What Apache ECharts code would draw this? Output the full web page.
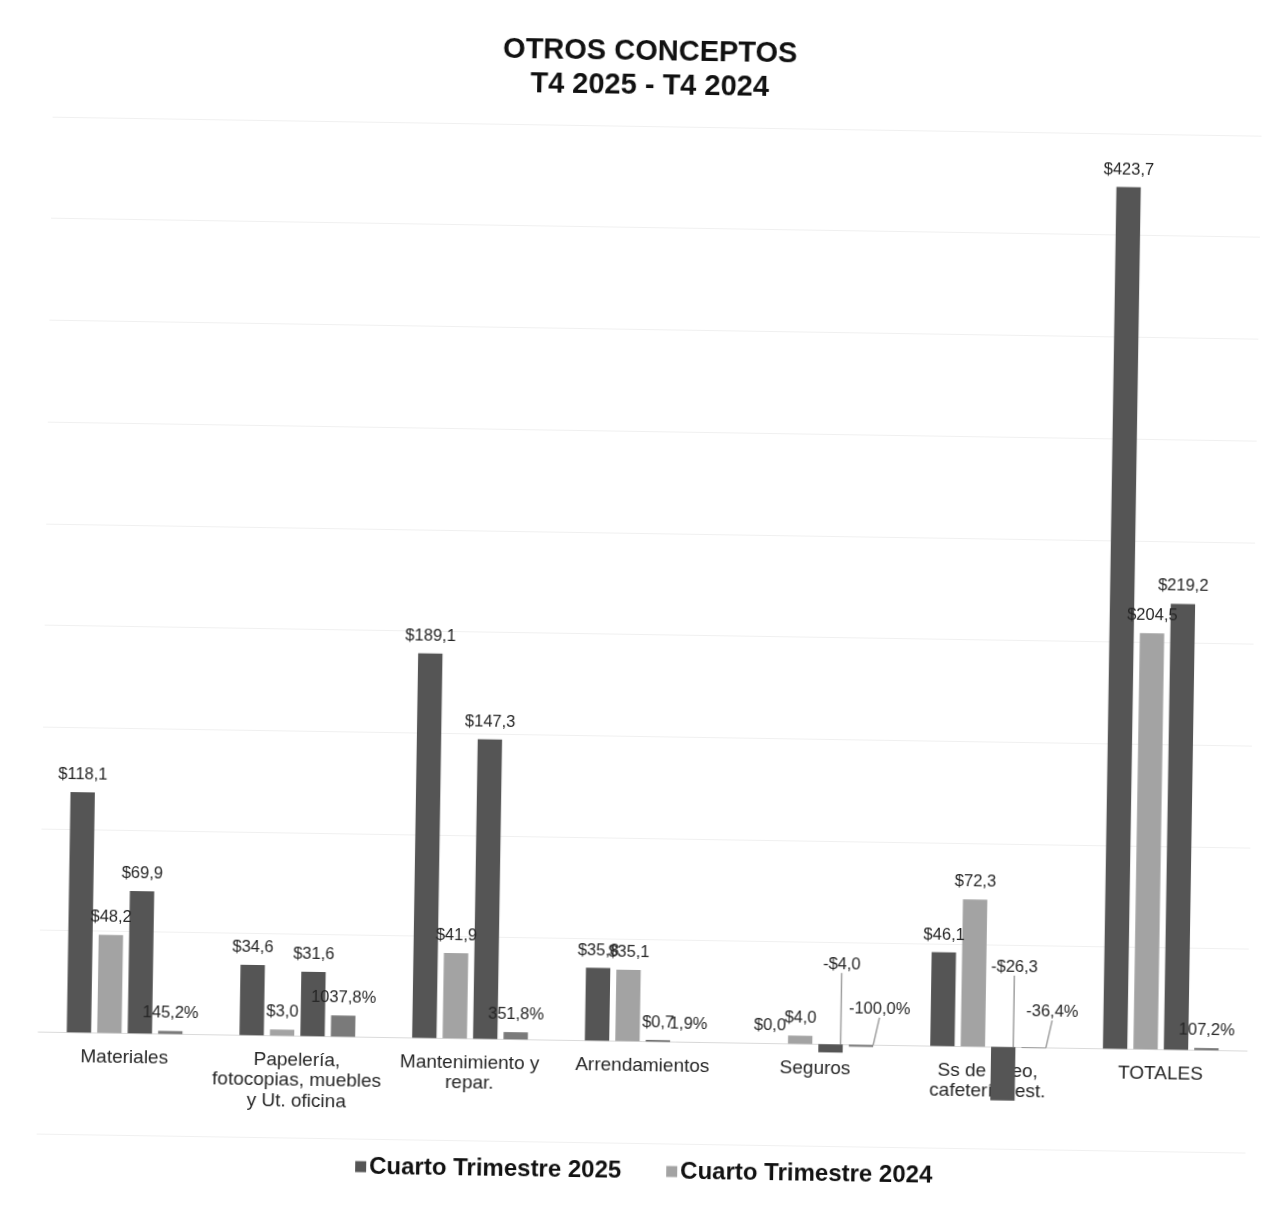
<!DOCTYPE html>
<html>
<head>
<meta charset="utf-8">
<script src="https://cdn.jsdelivr.net/npm/echarts@6/dist/echarts.min.js"></script>
<style>
  html, body { margin: 0; padding: 0; background: #ffffff; }
  #chart { width: 1283px; height: 1214px; transform: rotate(0.9deg); transform-origin: 50% 50%; }
</style>
</head>
<body>
<div id="chart"></div>
<script>
// ---- Data ----
const categories = [
  'Materiales',
  'Papelería,\nfotocopias, muebles\ny Ut. oficina',
  'Mantenimiento y\nrepar.',
  'Arrendamientos',
  'Seguros',
  'Ss de aseo,\ncafetería rest.',
  'TOTALES'
];
const seriesNames = ['Cuarto Trimestre 2025', 'Cuarto Trimestre 2024', 'Diferencia', 'Variación %'];
const t4_2025 = [118.1, 34.6, 189.1, 35.8, 0.0, 46.1, 423.7];
const t4_2024 = [48.2, 3.0, 41.9, 35.1, 4.0, 72.3, 204.5];
const diferencia = [69.9, 31.6, 147.3, 0.7, -4.0, -26.3, 219.2];
const variacion = [1.452, 10.378, 3.518, 0.019, -1.0, -0.364, 1.072];
const yTicks = { min: -50, max: 450, interval: 50 };

// ---- Layout / helpers ----
const W = 1283, H = 1214;
const gridBox = { left: 45, right: 29, top: 126, bottom: 71 };
const gridHeight = H - gridBox.top - gridBox.bottom;
// move the category axis (line + labels) up to the zero line
const zeroOffset = -((0 - yTicks.min) / (yTicks.max - yTicks.min)) * gridHeight;

const fontFamily = '"Liberation Sans", Arial, sans-serif';
function money(v) {
  const s = Math.abs(v).toFixed(1).replace('.', ',');
  return (v < 0 ? '-$' : '$') + s;
}
function pct(v) {
  return (v * 100).toFixed(1).replace('.', ',') + '%';
}
function withLines(arr) {
  return arr.map(v => v < 0 ? { value: v, labelLine: { show: true } } : v);
}
const labelStyle = { show: true, position: 'top', color: '#262626', fontSize: 16.5, fontFamily: fontFamily, distance: 9 };
const labelLineStyle = { show: false, lineStyle: { color: '#a0a0a0', width: 1.5 } };

// negative labels get lifted above the baseline with a leader line
function liftLayout(dxOff, dyOff, values) {
  return function (p) {
    const v = values[p.dataIndex];
    if (v >= 0) return {};
    return {
      x: p.rect.x + p.rect.width / 2 + dxOff,
      y: p.rect.y - dyOff,
      align: 'center',
      verticalAlign: 'middle'
    };
  };
}

const chart = echarts.init(document.getElementById('chart'), null, { renderer: 'canvas' });
chart.setOption({
  backgroundColor: '#ffffff',
  animation: false,
  title: {
    text: 'OTROS CONCEPTOS\nT4 2025 - T4 2024',
    left: 'center',
    top: 30,
    textStyle: { fontFamily: fontFamily, fontSize: 29, fontWeight: 'bold', color: '#111111', lineHeight: 34 }
  },
  legend: {
    data: [seriesNames[0], seriesNames[1]],
    bottom: 26,
    left: 359,
    itemWidth: 11,
    itemHeight: 11,
    itemGap: 45,
    icon: 'rect',
    textStyle: { fontFamily: fontFamily, fontSize: 24, fontWeight: 'bold', color: '#111111', padding: [0, 0, 0, -2] }
  },
  grid: Object.assign({ containLabel: false }, gridBox),
  xAxis: {
    type: 'category',
    data: categories,
    offset: zeroOffset,
    axisLine: { show: true, onZero: false, lineStyle: { color: '#dadada', width: 1 } },
    axisTick: { show: false },
    axisLabel: { color: '#262626', fontSize: 19, fontFamily: fontFamily, margin: 14, lineHeight: 20.5, interval: 0 },
    splitLine: { show: false }
  },
  yAxis: {
    type: 'value',
    min: yTicks.min,
    max: yTicks.max,
    interval: yTicks.interval,
    axisLine: { show: false },
    axisTick: { show: false },
    axisLabel: { show: false },
    splitLine: { show: true, lineStyle: { color: '#f0f0f0', width: 1.2 } }
  },
  series: [
    {
      name: seriesNames[0], type: 'bar', data: t4_2025,
      barCategoryGap: '33%', barGap: '25%',
      itemStyle: { color: '#555555' },
      label: Object.assign({}, labelStyle, { formatter: p => money(p.value) })
    },
    {
      name: seriesNames[1], type: 'bar', data: t4_2024,
      barCategoryGap: '33%', barGap: '25%',
      itemStyle: { color: '#a3a3a3' },
      label: Object.assign({}, labelStyle, { formatter: p => money(p.value) })
    },
    {
      name: seriesNames[2], type: 'bar', data: withLines(diferencia),
      barCategoryGap: '33%', barGap: '25%',
      itemStyle: { color: '#555555' },
      label: Object.assign({}, labelStyle, { formatter: p => money(p.value) }),
      labelLine: labelLineStyle,
      labelLayout: liftLayout(10, 80, diferencia)
    },
    {
      name: seriesNames[3], type: 'bar', data: withLines(variacion),
      barCategoryGap: '33%', barGap: '25%',
      itemStyle: { color: '#7a7a7a' },
      label: Object.assign({}, labelStyle, { formatter: p => pct(p.value) }),
      labelLine: labelLineStyle,
      labelLayout: liftLayout(18, 36, variacion)
    }
  ]
});
</script>
</body>
</html>
